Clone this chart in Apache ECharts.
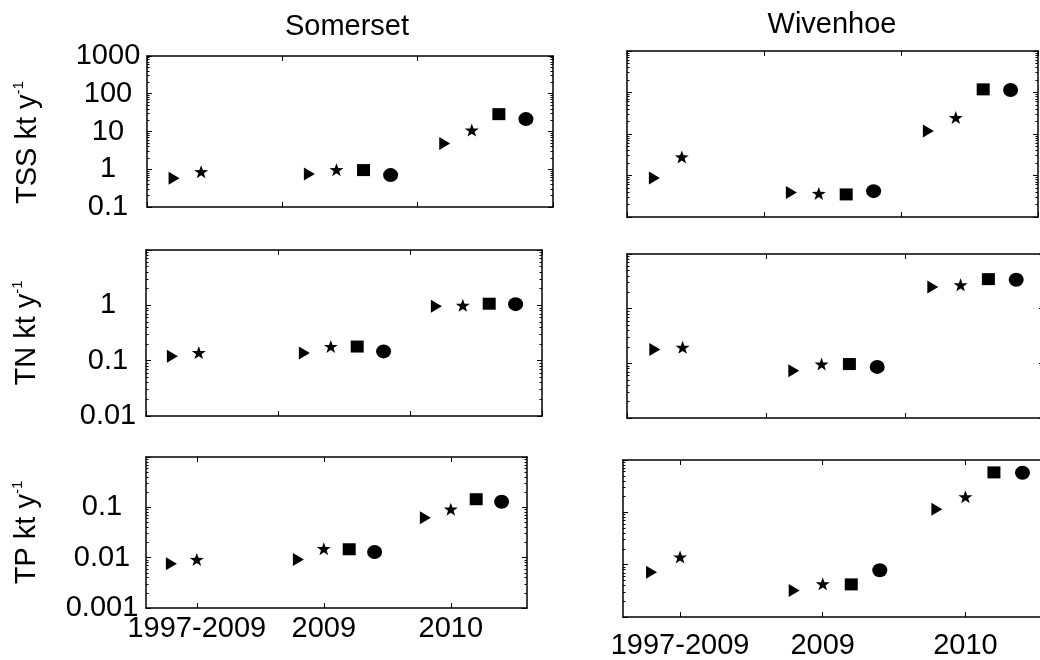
<!DOCTYPE html>
<html>
<head>
<meta charset="utf-8">
<script src="https://cdn.jsdelivr.net/npm/echarts@6/dist/echarts.min.js"></script>
<style>
html,body{margin:0;padding:0;background:#fff;}
#chart{width:1040px;height:660px;}
</style>
</head>
<body>
<div id="chart"></div>
<script>
// ---------------- data ----------------
const sites = ['Somerset', 'Wivenhoe'];
const variables = ['TSS', 'TN', 'TP'];

// x positions of the four estimate types (triangle, star, square, circle)
const xTriangle = [1, 6, 11];
const xStar = [2, 7, 12];
const xSquare = [8, 13];
const xCircle = [9, 14];

// bottom-row tick positions and labels
const xTickValues = [2, 7, 12];
const xTickLabels = ['1997-2009', '2009', '2010'];

// y ranges and labelled ticks per variable
const tssRange = [0.1, 1000];
const tnRange = [0.01, 10];
const tpRange = [0.001, 1];
const tssTickValues = [0.1, 1, 10, 100, 1000];
const tssTickLabels = ['0.1', '1', '10', '100', '1000'];
const tnTickValues = [0.01, 0.1, 1];
const tnTickLabels = ['0.01', '0.1', '1'];
const tpTickValues = [0.001, 0.01, 0.1];
const tpTickLabels = ['0.001', '0.01', '0.1'];

// Somerset
const somTSSTriangle = [0.58, 0.75, 4.8];
const somTSSStar = [0.86, 0.97, 10.9];
const somTSSSquare = [0.95, 28.8];
const somTSSCircle = [0.70, 21.3];
const somTNTriangle = [0.12, 0.137, 0.96];
const somTNStar = [0.14, 0.18, 1.0];
const somTNSquare = [0.18, 1.07];
const somTNCircle = [0.147, 1.05];
const somTPTriangle = [0.0076, 0.0092, 0.062];
const somTPStar = [0.0092, 0.0151, 0.092];
const somTPSquare = [0.0147, 0.145];
const somTPCircle = [0.0130, 0.129];

// Wivenhoe
const wivTSSTriangle = [0.87, 0.39, 11.8];
const wivTSSStar = [2.8, 0.37, 24.9];
const wivTSSSquare = [0.35, 119];
const wivTSSCircle = [0.42, 115];
const wivTNTriangle = [0.18, 0.073, 2.48];
const wivTNStar = [0.196, 0.097, 2.73];
const wivTNSquare = [0.097, 3.47];
const wivTNCircle = [0.086, 3.38];
const wivTPTriangle = [0.0072, 0.0032, 0.114];
const wivTPStar = [0.0140, 0.0043, 0.198];
const wivTPSquare = [0.0042, 0.58];
const wivTPCircle = [0.0078, 0.57];

// ---------------- layout / style ----------------
const FONT = '"Liberation Sans", Arial, Helvetica, sans-serif';
const STAR = 'path://M0,-10L2.35,-3.24L9.51,-3.09L3.8,1.24L5.88,8.09L0,4L-5.88,8.09L-3.8,1.24L-9.51,-3.09L-2.35,-3.24Z';

const rowInfo = [
  {range: tssRange, tv: tssTickValues, tl: tssTickLabels, labelMargin: 39, nameShift: 22},
  {range: tnRange, tv: tnTickValues, tl: tnTickLabels, labelMargin: 38, nameShift: 0},
  {range: tpRange, tv: tpTickValues, tl: tpTickLabels, labelMargin: 44, nameShift: 0}
];
const siteData = [
  [[somTSSTriangle, somTSSStar, somTSSSquare, somTSSCircle],
   [somTNTriangle, somTNStar, somTNSquare, somTNCircle],
   [somTPTriangle, somTPStar, somTPSquare, somTPCircle]],
  [[wivTSSTriangle, wivTSSStar, wivTSSSquare, wivTSSCircle],
   [wivTNTriangle, wivTNStar, wivTNSquare, wivTNCircle],
   [wivTPTriangle, wivTPStar, wivTPSquare, wivTPCircle]]
];
const gridBoxes = [
  [{left: 147, top: 56, width: 406, height: 151},
   {left: 146, top: 250, width: 396, height: 166},
   {left: 146, top: 457, width: 381, height: 151}],
  [{left: 627, top: 51, width: 411, height: 166},
   {left: 627, top: 254, width: 417, height: 164},
   {left: 623, top: 460, width: 428, height: 157}]
];
const xLabelMargin = [6, 14];

const markerDefs = [
  {xs: xTriangle, symbol: 'triangle', size: [13, 11], rotate: -90},
  {xs: xStar, symbol: STAR, size: [14, 13], rotate: 0},
  {xs: xSquare, symbol: 'rect', size: [13, 12], rotate: 0},
  {xs: xCircle, symbol: 'circle', size: [15, 14], rotate: 0}
];

const lineStyle = {color: '#000', width: 1.5};
const tickStyle = {color: '#000', width: 1};

function yFormatter(values, labels) {
  return function (v) {
    for (let i = 0; i < values.length; i++) {
      if (Math.abs(Math.log10(v) - Math.log10(values[i])) < 1e-6) return labels[i];
    }
    return '';
  };
}
function xFormatter(v) {
  const i = xTickValues.indexOf(v);
  return i >= 0 ? xTickLabels[i] : '';
}

const option = {
  animation: false,
  backgroundColor: '#fff',
  textStyle: {fontFamily: FONT},
  title: [
    {text: sites[0], left: 347, top: 12, textAlign: 'center', padding: 0,
     textStyle: {fontSize: 29, fontWeight: 'normal', color: '#000', fontFamily: FONT}},
    {text: sites[1], left: 832, top: 10, textAlign: 'center', padding: 0,
     textStyle: {fontSize: 29, fontWeight: 'normal', color: '#000', fontFamily: FONT}}
  ],
  grid: [], xAxis: [], yAxis: [], series: []
};

let g = 0;
for (let s = 0; s < 2; s++) {
  for (let r = 0; r < 3; r++) {
    const box = gridBoxes[s][r];
    const info = rowInfo[r];
    const bottomRow = r === 2;
    option.grid.push(Object.assign({containLabel: false, outerBoundsMode: 'none'}, box));

    const xBase = {
      type: 'value', gridIndex: g, min: 0, max: 15, interval: 5,
      axisLine: {show: true, onZero: false, lineStyle: lineStyle},
      splitLine: {show: false}
    };
    const tickB = {show: true, inside: true, length: 5, lineStyle: tickStyle};
    if (bottomRow) tickB.customValues = xTickValues;
    option.xAxis.push(Object.assign({}, xBase, {
      position: 'bottom',
      axisTick: tickB,
      axisLabel: bottomRow ? {
        show: true, customValues: xTickValues, formatter: xFormatter,
        fontSize: 29, color: '#000', fontFamily: FONT, margin: xLabelMargin[s]
      } : {show: false}
    }));
    option.xAxis.push(Object.assign({}, xBase, {
      position: 'top',
      axisTick: Object.assign({}, tickB),
      axisLabel: {show: false}
    }));

    const yBase = {
      type: 'log', logBase: 10, gridIndex: g, min: info.range[0], max: info.range[1],
      axisLine: {show: true, onZero: false, lineStyle: lineStyle},
      axisTick: {show: true, inside: true, length: 5, lineStyle: tickStyle},
      minorTick: {show: true, splitNumber: 9, length: 2.5, lineStyle: tickStyle},
      splitLine: {show: false}, minorSplitLine: {show: false}
    };
    const yLeft = Object.assign({}, yBase, {
      position: 'left',
      axisLabel: s === 0 ? {
        show: true, align: 'center', margin: info.labelMargin, fontSize: 29, color: '#000',
        fontFamily: FONT, formatter: yFormatter(info.tv, info.tl)
      } : {show: false}
    });
    if (s === 0) {
      yLeft.name = '{a|' + variables[r] + ' kt y}{b|-1}' + (info.nameShift ? '{c| }' : '');
      yLeft.nameLocation = 'middle';
      yLeft.nameRotate = 90;
      yLeft.nameGap = 102;
      yLeft.nameTextStyle = {
        color: '#000', fontFamily: FONT,
        rich: {
          a: {fontSize: 29, lineHeight: 34, color: '#000', fontFamily: FONT},
          b: {fontSize: 15, lineHeight: 16, verticalAlign: 'top', color: '#000', fontFamily: FONT},
          c: {fontSize: 10, lineHeight: 16, width: info.nameShift}
        }
      };
    }
    option.yAxis.push(yLeft);
    option.yAxis.push(Object.assign({}, yBase, {position: 'right', axisLabel: {show: false}}));

    const vals = siteData[s][r];
    markerDefs.forEach(function (m, k) {
      option.series.push({
        type: 'scatter',
        xAxisIndex: 2 * g, yAxisIndex: 2 * g,
        symbol: m.symbol, symbolSize: m.size, symbolRotate: m.rotate,
        itemStyle: {color: '#000', opacity: 1},
        data: m.xs.map(function (x, i) { return [x, vals[k][i]]; }),
        emphasis: {disabled: true},
        silent: true
      });
    });
    g++;
  }
}

const chart = echarts.init(document.getElementById('chart'), null, {renderer: 'canvas'});
chart.setOption(option);
</script>
</body>
</html>
